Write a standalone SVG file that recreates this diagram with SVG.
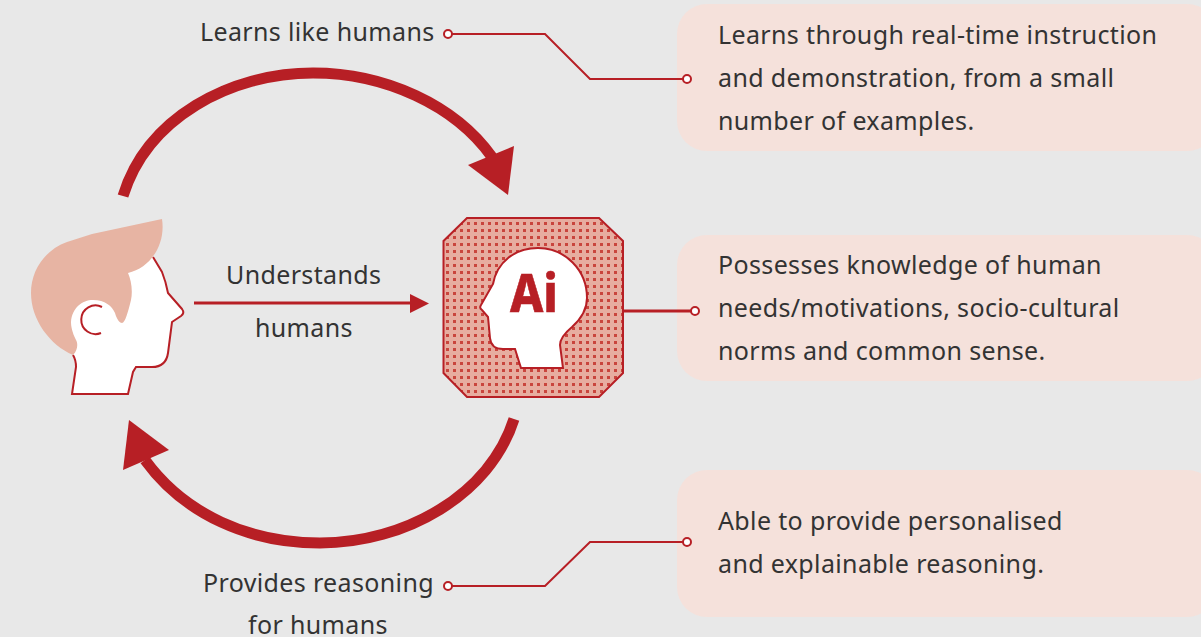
<svg xmlns="http://www.w3.org/2000/svg" width="1201" height="637" viewBox="0 0 1201 637">
<style>
text{font-family:"Noto Sans","Open Sans",sans-serif;font-size:25px;fill:#333;letter-spacing:.36px}
.box{fill:#f5e1db}
.thin{fill:none;stroke:#b71f25;stroke-width:2}
.dot{fill:#fff;stroke:#b71f25;stroke-width:2}
.arc{fill:none;stroke:#b71f25;stroke-width:11}
.red{fill:#b71f25}
</style>
<defs>
<pattern id="dots" width="7" height="7" patternUnits="userSpaceOnUse" x="467" y="222"><rect width="3" height="3" fill="#c9453d"/></pattern>
</defs>
<rect width="1201" height="637" fill="#e8e8e8"/>
<g id="box1"><rect class="box" x="677" y="4" width="540" height="147" rx="30"/>
<text x="718" y="44">Learns through real-time instruction</text><text x="718" y="87">and demonstration, from a small</text><text x="718" y="130">number of examples.</text></g>
<g id="box2"><rect class="box" x="677" y="235" width="540" height="146" rx="30"/>
<text x="718" y="274">Possesses knowledge of human</text><text x="718" y="317">needs/motivations, socio-cultural</text><text x="718" y="360">norms and common sense.</text></g>
<g id="box3"><rect class="box" x="677" y="470" width="540" height="147" rx="30"/>
<text x="718" y="530">Able to provide personalised</text><text x="718" y="573">and explainable reasoning.</text></g>
<g id="human">
<path d="M153,255L166,280Q167,288 168,293L182,309Q185,313 181,316L172,322L168,353Q166,367 152,367H136L133,372L128,394H72L76,367Q76,360 73,355L60,300L100,270Z" fill="#fff"/>
<path d="M153,257L162,272Q166,282 168,293L182,309Q185,313 181,316L172,322L168,353Q166,367 152,367H136L133,372L128,394H72L76,367Q76,360 73,355" fill="none" stroke="#b71f25" stroke-width="2"/>
<path d="M162,219L92,234L67,242C45,250 31,270 31,293C31,320 50,345 73,355C78,350 78,343 76,340C72,332 71,326 71,322C72,308 82,300 93,300C105,300 112,306 115,313C117,320 120,323 122,323C125,323 128,312 131,300C133,290 131,280 128,273C150,268 166,245 162,219Z" fill="#e7b4a3"/>
<path d="M102,307A14.300,14.300 0 1 0 101,333" fill="none" stroke="#b71f25" stroke-width="2"/>
</g>
<g id="ai">
<polygon points="467,218 599,218 623,241 623,373 599,397 467,397 443.500,373 443.500,241" fill="#e7ada0"/>
<polygon points="467,218 599,218 623,241 623,373 599,397 467,397 443.500,373 443.500,241" fill="url(#dots)" stroke="#b71f25" stroke-width="2"/>
<path d="M521,368H563L560,345C560,338 566,332 572,327C582,318 587,308 587,298C587,270 565,248 538,248C515,248 497,262 493,284L481,305Q479,308 482,310L488,317L490,338Q491,349 503,349H515Z" fill="#fff" stroke="#b71f25" stroke-width="2"/>
<text x="510" y="312" textLength="48" lengthAdjust="spacingAndGlyphs" style="font-family:'Noto Sans',sans-serif;font-size:54px;font-weight:800;fill:#b71f25;stroke:#b71f25;stroke-width:.6;letter-spacing:0">Ai</text>
</g>
<g id="connectors">
<path class="arc" d="M123,196C147,118 230,73 313,73C385,73 455,105 492,157"/>
<polygon class="red" points="468,165 514,146 508,195"/>
<path class="arc" d="M514,419C490,495 405,543 320,543C250,543 185,515 145,460"/>
<polygon class="red" points="129,420 169,450 123,470"/>
<path d="M194,303H415" fill="none" stroke="#b71f25" stroke-width="3"/>
<polygon class="red" points="410,294 429,303.500 410,313"/>
<path d="M623,311H695" fill="none" stroke="#b71f25" stroke-width="3"/>
<path class="thin" d="M448,34H545L590,79H687"/>
<path class="thin" d="M448,586H545L590,542H687"/>
<circle class="dot" cx="448" cy="34" r="4"/><circle class="dot" cx="687" cy="79" r="4"/>
<circle class="dot" cx="695" cy="311" r="4"/>
<circle class="dot" cx="448" cy="586" r="4"/><circle class="dot" cx="687" cy="542" r="4"/>
</g>
<g id="labels">
<text x="200" y="41">Learns like humans</text>
<text x="226" y="284">Understands</text>
<text x="255" y="337">humans</text>
<text x="203" y="592">Provides reasoning</text>
<text x="248" y="634">for humans</text>
</g>
</svg>
